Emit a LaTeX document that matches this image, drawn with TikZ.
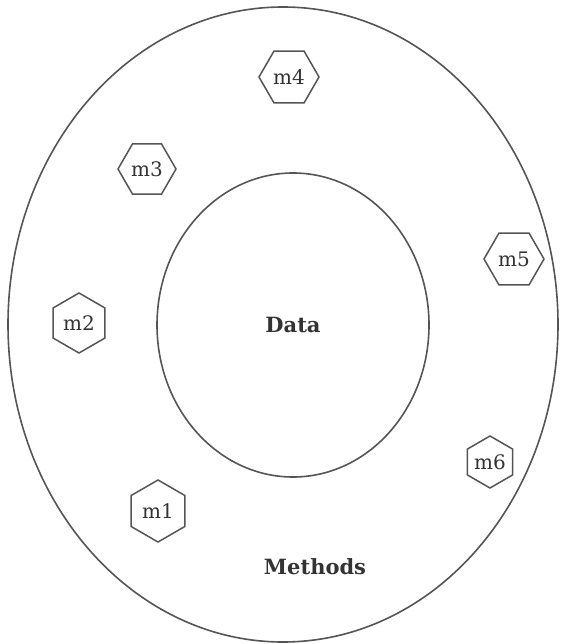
\documentclass[tikz,border=0pt]{standalone}
\usepackage{fontspec}
\setmainfont{DejaVu Serif}
\usetikzlibrary{shapes.geometric}
\definecolor{linegray}{HTML}{555555}
\definecolor{textgray}{HTML}{333333}
\tikzset{
  ring/.style={ellipse, draw=linegray, line width=1.6pt, inner sep=0pt},
  hexflat/.style={regular polygon, regular polygon sides=6, draw=linegray, line width=1.5pt, inner sep=0pt, text=textgray, font=\fontsize{20}{22}\selectfont},
  hexpoint/.style={hexflat, shape border rotate=90},
  biglabel/.style={text=textgray, font=\fontsize{21}{24}\selectfont\bfseries}
}
\begin{document}
\begin{tikzpicture}[x=1pt, y=-1pt]
\useasboundingbox (0,0) rectangle (565,644);
\node[ring, minimum width=550pt, minimum height=635pt] (outer) at (283,324.5) {};
\node[ring, minimum width=272pt, minimum height=304pt, biglabel] (data) at (293,325) {Data};
\node[biglabel] (methods) at (315,567) {Methods};
\node[hexflat, minimum size=60pt] (m4) at (289,77) {m4};
\node[hexflat, minimum size=58pt] (m3) at (147,169) {m3};
\node[hexflat, minimum size=60pt] (m5) at (514,259) {m5};
\node[hexpoint, minimum size=60pt] (m2) at (79,323) {m2};
\node[hexpoint, minimum size=62pt] (m1) at (158,511) {m1};
\node[hexpoint, minimum size=52pt] (m6) at (490,462) {m6};
\end{tikzpicture}
\end{document}
